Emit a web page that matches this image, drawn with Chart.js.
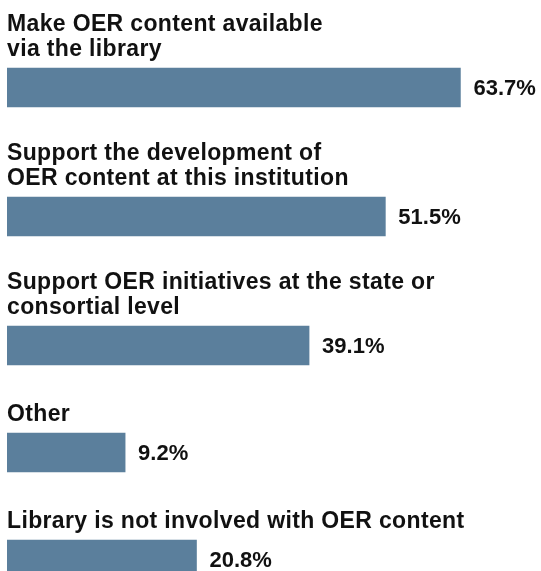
<!DOCTYPE html>
<html>
<head>
<meta charset="utf-8">
<script src="https://cdn.jsdelivr.net/npm/chart.js@4"></script>
<style>
  html, body { margin: 0; padding: 0; background: #fff; }
  #wrap { width: 541px; height: 571px; position: relative; }
</style>
</head>
<body>
<div id="wrap"><canvas id="myChart"></canvas></div>
<script>
// category labels, one entry per text line
const categories = [
  ['Make OER content available', 'via the library'],
  ['Support the development of', 'OER content at this institution'],
  ['Support OER initiatives at the state or', 'consortial level'],
  ['Other'],
  ['Library is not involved with OER content']
];
const values = [63.7, 51.5, 39.1, 9.2, 20.8];
const valueLabels = ['63.7%', '51.5%', '39.1%', '9.2%', '20.8%'];

const BAR_COLOR = '#5b7f9c';
const LINE_H = 22;   // room for one label line
const BLOCK = 85;    // bar plus gap below it
const BAR_H = 39;

// vertical slot of each row depends on how many label lines sit above it
let acc = 0;
const rows = categories.map((lines, i) => {
  acc += lines.length * LINE_H;
  const pos = acc + i * BLOCK + 43.5;
  return { x: values[i], y: pos };
});

const labelPlugin = {
  id: 'barLabels',
  afterDatasetsDraw(chart) {
    const ctx = chart.ctx;
    const meta = chart.getDatasetMeta(0);
    ctx.save();
    ctx.fillStyle = '#111';
    meta.data.forEach((bar, i) => {
      const top = bar.y - bar.height / 2;
      // category text above the bar
      ctx.font = 'bold 23px "Liberation Sans", Arial, sans-serif';
      ctx.letterSpacing = '0.35px';
      ctx.textAlign = 'left';
      ctx.textBaseline = 'alphabetic';
      const lines = categories[i];
      lines.forEach((txt, k) => {
        const y = top - 12 - (lines.length - 1 - k) * 25;
        ctx.fillText(txt, 7, y);
      });
      // value to the right of the bar
      ctx.font = 'bold 22px "Liberation Sans", Arial, sans-serif';
      ctx.letterSpacing = '0px';
      ctx.textBaseline = 'middle';
      ctx.fillText(valueLabels[i], bar.x + 13, bar.y + 1);
    });
    ctx.restore();
  }
};

const ctx = document.getElementById('myChart').getContext('2d');
new Chart(ctx, {
  type: 'bar',
  data: {
    datasets: [{
      data: rows,
      backgroundColor: BAR_COLOR,
      borderWidth: 0,
      barThickness: BAR_H,
      base: -10
    }]
  },
  options: {
    indexAxis: 'y',
    responsive: true,
    maintainAspectRatio: false,
    animation: false,
    layout: { padding: { left: 7, right: 0, top: 0, bottom: 0 } },
    scales: {
      x: { type: 'linear', min: -10, max: 76.8, display: false },
      y: { type: 'linear', min: 0, max: 571, reverse: true, offset: false, display: false }
    },
    plugins: {
      legend: { display: false },
      tooltip: { enabled: false }
    }
  },
  plugins: [labelPlugin]
});
</script>
</body>
</html>
